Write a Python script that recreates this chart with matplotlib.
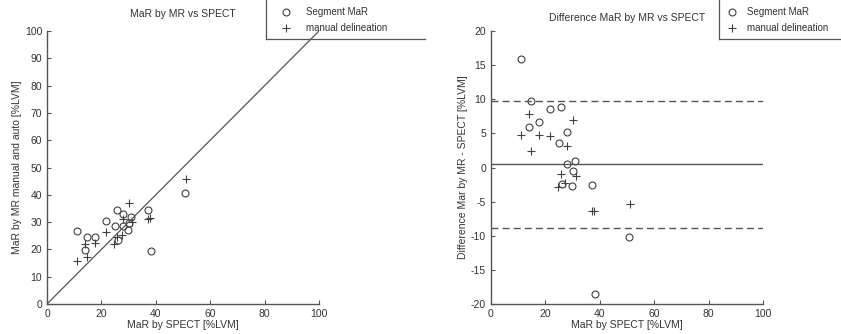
import numpy as np
import matplotlib.pyplot as plt
from matplotlib.lines import Line2D

plt.rcParams['font.family'] = ['Liberation Sans', 'DejaVu Sans']
plt.rcParams['axes.unicode_minus'] = False

# Segment MaR (circles)
seg_spect = [10.9, 14.8, 13.9, 17.8, 21.8, 25.7, 24.9, 27.9, 28.1, 30.9, 30.0, 26.0, 29.7, 37.0, 38.1, 50.7]
seg_mr = [26.8, 24.5, 19.9, 24.4, 30.4, 34.6, 28.5, 33.1, 28.6, 31.9, 29.5, 23.6, 27.0, 34.5, 19.5, 40.5]

# manual delineation (plus)
man_spect = [10.9, 14.1, 14.8, 17.8, 21.8, 24.8, 25.7, 27.4, 27.8, 30.0, 31.2, 37.3, 38.0, 51.1]
man_mr = [15.7, 22.0, 17.2, 22.5, 26.4, 21.9, 24.7, 25.1, 31.0, 37.0, 29.9, 31.0, 31.6, 45.7]

mean_diff = 0.45
upper_loa = 9.8
lower_loa = -8.8

grey = '#404040'
fs = 7.5

seg_diff = np.array(seg_mr) - np.array(seg_spect)
man_diff = np.array(man_mr) - np.array(man_spect)

fig = plt.figure(figsize=(8.41, 3.34), dpi=100)
ax1 = fig.add_axes([0.0559, 0.0898, 0.3234, 0.8174])
ax2 = fig.add_axes([0.5838, 0.0898, 0.3234, 0.8174])


def style(ax):
    for s in ['top', 'right']:
        ax.spines[s].set_visible(False)
    for s in ['left', 'bottom']:
        ax.spines[s].set_color('#555555')
        ax.spines[s].set_linewidth(1.0)
    ax.tick_params(direction='in', length=3, width=0.8, colors='#555555',
                   labelsize=fs, labelcolor='#333333')


# left: scatter
ax1.plot(seg_spect, seg_mr, 'o', mfc='none', mec=grey, ms=5, mew=0.8, label='Segment MaR')
ax1.plot(man_spect, man_mr, '+', color=grey, ms=6, mew=0.8, label='manual delineation')
ax1.plot([0, 100], [0, 100], color='#555555', lw=0.9)
ax1.set_xlim(0, 100)
ax1.set_ylim(0, 100)
ax1.set_xticks(np.arange(0, 101, 20))
ax1.set_yticks(np.arange(0, 101, 10))
ax1.set_xlabel('MaR by SPECT [%LVM]', fontsize=fs, color='#333333', labelpad=1)
ax1.set_ylabel('MaR by MR manual and auto [%LVM]', fontsize=fs, color='#333333', labelpad=2)
ax1.set_title('MaR by MR vs SPECT', fontsize=fs, color='#333333', pad=10)
style(ax1)

# right: difference
ax2.plot(seg_spect, seg_diff, 'o', mfc='none', mec=grey, ms=5, mew=0.8, label='Segment MaR')
ax2.plot(man_spect, man_diff, '+', color=grey, ms=6, mew=0.8, label='manual delineation')
ax2.axhline(mean_diff, color='#555555', lw=1.0)
ax2.axhline(upper_loa, color='#555555', lw=1.0, ls=(0, (5, 3)))
ax2.axhline(lower_loa, color='#555555', lw=1.0, ls=(0, (5, 3)))
ax2.set_xlim(0, 100)
ax2.set_ylim(-20, 20)
ax2.set_xticks(np.arange(0, 101, 20))
ax2.set_yticks(np.arange(-20, 21, 5))
ax2.set_xlabel('MaR by SPECT [%LVM]', fontsize=fs, color='#333333', labelpad=1)
ax2.set_ylabel('Difference Mar by MR - SPECT [%LVM]', fontsize=fs, color='#333333', labelpad=2)
ax2.set_title('Difference MaR by MR vs SPECT', fontsize=fs, color='#333333', pad=7)
style(ax2)

# legends with only left and bottom edges visible
W, H = 841.0, 334.0
for ax, x0, x1, lx, hl, tp in [(ax1, 266, 425, 278, 1.6, 1.3), (ax2, 719, 841, 727, 1.0, 1.1)]:
    fig.legend(*ax.get_legend_handles_labels(), loc='upper left',
               bbox_to_anchor=(lx / W, 1 - 7 / H), frameon=False,
               fontsize=7, handlelength=hl, handletextpad=tp,
               labelspacing=0.65, borderaxespad=0, borderpad=0,
               labelcolor='#333333')
    fig.add_artist(Line2D([x0 / W, x0 / W], [1.0, 1 - 39 / H], color='#555555', lw=0.9))
    fig.add_artist(Line2D([x0 / W, x1 / W], [1 - 39 / H, 1 - 39 / H], color='#555555', lw=0.9))

fig.savefig('out.png', dpi=100)
